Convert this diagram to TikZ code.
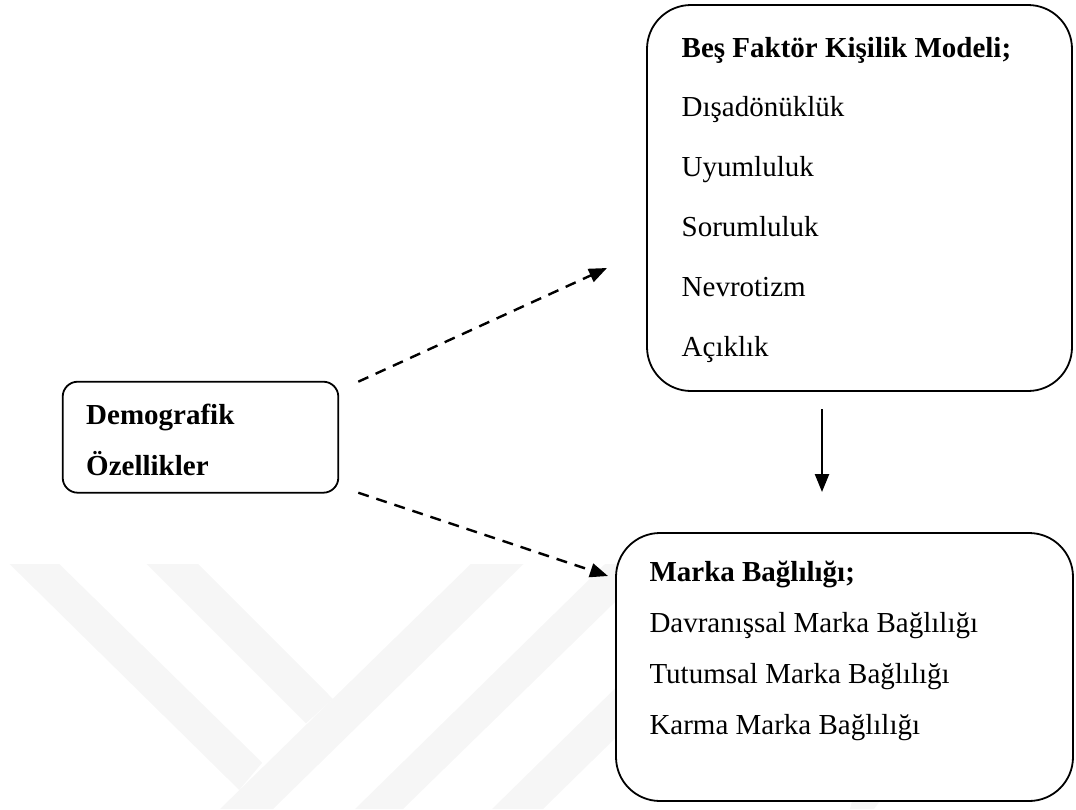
\documentclass[tikz,border=0pt]{standalone}
\usepackage{fontspec}
\setmainfont{Liberation Serif}
\usetikzlibrary{arrows.meta}
\begin{document}
\begin{tikzpicture}[x=1pt,y=-1pt,
  box/.style={draw=black, line width=1.8pt, fill=white, rectangle, inner sep=0pt},
  txt/.style={anchor=base west, inner sep=0pt, font=\fontsize{29}{35}\selectfont},
  btxt/.style={txt, font=\fontsize{29}{35}\selectfont\bfseries},
  dasharrow/.style={line width=2.4pt, dash pattern=on 11pt off 8pt, -{Triangle[length=18pt,width=14pt]}},
  solidarrow/.style={line width=2.4pt, -{Triangle[length=18pt,width=14pt]}},
  wm/.style={fill=gray!7, draw=none}]
\useasboundingbox (0,0) rectangle (1076,809);
% faint background watermark
\begin{scope}
\clip (0,0) rectangle (1076,809);
\fill[wm] (9.6,564) -- (59.3,564) -- (262.2,762.7) -- (239.2,790) -- cycle;
\fill[wm] (146.6,564) -- (198.2,564) -- (333,699) -- (306,723.3) -- cycle;
\fill[wm] (470.7,564) -- (523.5,564) -- (273,809) -- (220,809) -- cycle;
\fill[wm] (605,564) -- (654,564) -- (403,809) -- (355,809) -- cycle;
\fill[wm] (742,564) -- (793,564) -- (543,809) -- (492,809) -- cycle;
\fill[wm] (852,801) -- (880,801) -- (874,809) -- (850,809) -- cycle;
\end{scope}
% boxes
\node[box, rounded corners=44pt, minimum width=425pt, minimum height=386pt] (five) at (859.5,198) {};
\node[box, rounded corners=15pt, minimum width=275.6pt, minimum height=111pt] (demo) at (200.5,437.2) {};
\node[box, rounded corners=44pt, minimum width=457pt, minimum height=268pt] (marka) at (844.5,667) {};
% texts
\node[btxt] (f0) at (681.5,57) {Beş Faktör Kişilik Modeli;};
\node[txt] (f1) at (681.5,116.5) {Dışadönüklük};
\node[txt] (f2) at (681.5,176.5) {Uyumluluk};
\node[txt] (f3) at (681.5,236.5) {Sorumluluk};
\node[txt] (f4) at (681.5,296.5) {Nevrotizm};
\node[txt] (f5) at (681.5,356.5) {Açıklık};
\node[btxt] (d1) at (86,424) {Demografik};
\node[btxt] (d2) at (86,475) {Özellikler};
\node[btxt] (m0) at (649.3,581) {Marka Bağlılığı;};
\node[txt] (m1) at (649.3,632) {Davranışsal Marka Bağlılığı};
\node[txt] (m2) at (649.3,683) {Tutumsal Marka Bağlılığı};
\node[txt] (m3) at (649.3,734) {Karma Marka Bağlılığı};
% connector ends
\coordinate (up1) at (358.3,381.7);
\coordinate (up2) at (607,268);
\coordinate (lo1) at (358.3,492.7);
\coordinate (lo2) at (608,576);
\coordinate (v1) at (822,409);
\coordinate (v2) at (822,492);
\draw[dasharrow] (up1) -- (up2);
\draw[dasharrow] (lo1) -- (lo2);
\draw[solidarrow] (v1) -- (v2);
\end{tikzpicture}
\end{document}
